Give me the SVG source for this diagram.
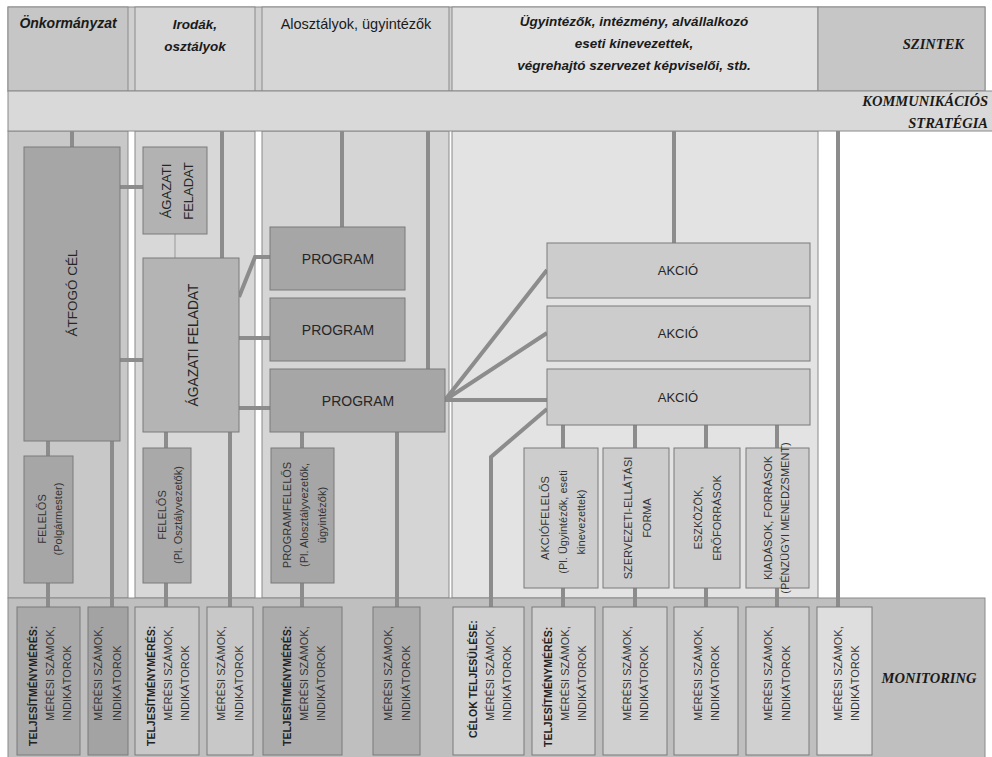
<svg xmlns="http://www.w3.org/2000/svg" width="992" height="757" viewBox="0 0 992 757">
<style>
.lane{stroke:#8a8a8a;stroke-width:1}
.box{stroke:#7a7a7a;stroke-width:1}
.dk{fill:#a6a6a6}
.md{fill:#b2b2b2}
.lt{fill:#cccccc}
.conn{stroke:#8c8c8c;stroke-width:4;fill:none}
.thin{stroke:#999999;stroke-width:1;fill:none}
.h{font-family:"Liberation Sans",Arial,sans-serif;font-weight:bold;font-style:italic;fill:#1a1a1a;text-anchor:middle}
.hs{font-family:"Liberation Serif","Times New Roman",serif;font-weight:bold;font-style:italic;fill:#1a1a1a;font-size:14.5px}
.t{font-family:"Liberation Sans",Arial,sans-serif;fill:#262626;text-anchor:middle}
.r{font-family:"Liberation Sans",Arial,sans-serif;fill:#333333;font-size:11px;text-anchor:middle}
.m{font-family:"Liberation Sans",Arial,sans-serif;fill:#333333;font-size:11px;text-anchor:start}
.mb{font-family:"Liberation Sans",Arial,sans-serif;fill:#222222;font-size:10.5px;font-weight:bold;text-anchor:start}
</style>
<rect x="0" y="0" width="992" height="757" fill="#ffffff"/>

<g id="lanes">
  <rect class="lane" x="8" y="131" width="120" height="467" fill="#c8c8c8"/>
  <rect class="lane" x="135" y="131" width="120" height="467" fill="#d8d8d8"/>
  <rect class="lane" x="262" y="131" width="187" height="467" fill="#d5d5d5"/>
  <rect class="lane" x="452" y="131" width="366" height="467" fill="#e3e3e3"/>
  <rect class="lane" x="8" y="598" width="977" height="165" fill="#bfbfbf"/>
</g>

<g id="header">
  <rect class="lane" x="8" y="7" width="977" height="84" fill="#d0d0d0"/>
  <rect class="lane" x="8" y="7" width="120" height="84" fill="#c6c6c6"/>
  <rect class="lane" x="135" y="7" width="120" height="84" fill="#d6d6d6"/>
  <rect class="lane" x="262" y="7" width="187" height="84" fill="#d6d6d6"/>
  <rect class="lane" x="452" y="7" width="366" height="84" fill="#e0e0e0"/>
  <rect class="lane" x="818" y="7" width="167" height="84" fill="#c6c6c6"/>
  <text class="h" x="68" y="28" font-size="14">Önkormányzat</text>
  <text class="h" x="195" y="29" font-size="13.5">Irodák,</text>
  <text class="h" x="195" y="51" font-size="13.5">osztályok</text>
  <text x="356" y="29" font-size="14.5" font-family="Liberation Sans, Arial, sans-serif" fill="#1a1a1a" text-anchor="middle">Alosztályok, ügyintézők</text>
  <text class="h" x="634" y="26" font-size="13.5">Ügyintézők, intézmény, alvállalkozó</text>
  <text class="h" x="634" y="48" font-size="13.5">eseti kinevezettek,</text>
  <text class="h" x="634" y="70" font-size="13.5">végrehajtó szervezet képviselői, stb.</text>
  <text class="hs" x="964" y="49" text-anchor="end">SZINTEK</text>
  <rect class="lane" x="8" y="91" width="990" height="40" fill="#d9d9d9"/>
  <text class="hs" x="988" y="106" text-anchor="end">KOMMUNIKÁCIÓS</text>
  <text class="hs" x="988" y="128" text-anchor="end">STRATÉGIA</text>
  <text class="hs" x="929" y="683" text-anchor="middle">MONITORING</text>
</g>

<g id="connectors">
  <path class="conn" d="M72,131V147 M222,131V258 M342,131V227 M428,131V369 M674,131V243 M838,131V607"/>
  <path class="conn" d="M120,187H143 M120,360H143 M239,297L255,257H270 M239,338H270 M239,408H270"/>
  <path class="conn" d="M445,400L547,270 M445,400L547,333 M445,400H547 M547,409L491,457V607"/>
  <path class="conn" d="M48,441V456 M48,583V607 M112,441V607 M166,432V448 M166,583V607 M230,432V607 M302,432V448 M302,583V607 M397,432V607"/>
  <path class="conn" d="M563,425V448 M563,588V607 M635,425V448 M635,588V607 M706,425V448 M706,588V607 M777,425V448 M777,588V607"/>
  <path class="thin" d="M175,234V258"/>
</g>

<g id="atfogo-cel">
  <rect class="box dk" x="24" y="147" width="96" height="294"/>
  <text class="t" font-size="13.5" transform="translate(77,293) rotate(-90)">ÁTFOGÓ CÉL</text>
</g>
<g id="agazati-feladat-1">
  <rect class="box md" x="143" y="147" width="64" height="87"/>
  <text class="t" font-size="13" transform="translate(171,191) rotate(-90)">ÁGAZATI</text>
  <text class="t" font-size="13" transform="translate(193,191) rotate(-90)">FELADAT</text>
</g>
<g id="agazati-feladat-2">
  <rect class="box" fill="#b4b4b4" x="143" y="258" width="96" height="174"/>
  <text class="t" font-size="13.8" transform="translate(198,345) rotate(-90)">ÁGAZATI FELADAT</text>
</g>
<g id="program-1">
  <rect class="box dk" x="270" y="227" width="135" height="63"/>
  <text class="t" font-size="14" x="338" y="264">PROGRAM</text>
</g>
<g id="program-2">
  <rect class="box dk" x="270" y="298" width="135" height="63"/>
  <text class="t" font-size="14" x="338" y="335">PROGRAM</text>
</g>
<g id="program-3">
  <rect class="box dk" x="270" y="369" width="175" height="63"/>
  <text class="t" font-size="14" x="358" y="406">PROGRAM</text>
</g>
<g id="akcio-1">
  <rect class="box lt" x="547" y="243" width="263" height="55"/>
  <text class="t" font-size="13" x="678" y="275">AKCIÓ</text>
</g>
<g id="akcio-2">
  <rect class="box lt" x="547" y="306" width="263" height="55"/>
  <text class="t" font-size="13" x="678" y="338">AKCIÓ</text>
</g>
<g id="akcio-3">
  <rect class="box lt" x="547" y="369" width="263" height="56"/>
  <text class="t" font-size="13" x="678" y="402">AKCIÓ</text>
</g>

<g id="felelos-polgarmester">
  <rect class="box dk" x="24" y="456" width="49" height="127"/>
  <text class="r" transform="translate(46,519) rotate(-90)">FELELŐS</text>
  <text class="r" transform="translate(62,519) rotate(-90)">(Polgármester)</text>
</g>
<g id="felelos-osztalyvezetok">
  <rect class="box" fill="#a9a9a9" x="143" y="448" width="48" height="135"/>
  <text class="r" transform="translate(166,515) rotate(-90)">FELELŐS</text>
  <text class="r" transform="translate(182,515) rotate(-90)">(Pl. Osztályvezetők)</text>
</g>
<g id="programfelelos">
  <rect class="box dk" x="271" y="448" width="63" height="135"/>
  <text class="r" transform="translate(291,515) rotate(-90)">PROGRAMFELELŐS</text>
  <text class="r" transform="translate(308,515) rotate(-90)">(Pl. Alosztályvezetők,</text>
  <text class="r" transform="translate(326,515) rotate(-90)">ügyintézők)</text>
</g>
<g id="akciofelelos">
  <rect class="box" fill="#cdcdcd" x="524" y="448" width="74" height="140"/>
  <text class="r" transform="translate(549,518) rotate(-90)">AKCIÓFELELŐS</text>
  <text class="r" transform="translate(567,522) rotate(-90)">(Pl. Ügyintézők, eseti</text>
  <text class="r" transform="translate(585,522) rotate(-90)">kinevezettek)</text>
</g>
<g id="szervezeti-ellatasi-forma">
  <rect class="box" fill="#cdcdcd" x="603" y="448" width="66" height="140"/>
  <text class="r" transform="translate(632,518) rotate(-90)">SZERVEZETI-ELLÁTÁSI</text>
  <text class="r" transform="translate(651,518) rotate(-90)">FORMA</text>
</g>
<g id="eszkozok-eroforrasok">
  <rect class="box" fill="#cdcdcd" x="674" y="448" width="66" height="140"/>
  <text class="r" transform="translate(702,518) rotate(-90)">ESZKÖZÖK,</text>
  <text class="r" transform="translate(721,518) rotate(-90)">ERŐFORRÁSOK</text>
</g>
<g id="kiadasok-forrasok">
  <rect class="box" fill="#cdcdcd" x="746" y="448" width="63" height="140"/>
  <text class="r" transform="translate(772,518) rotate(-90)">KIADÁSOK, FORRÁSOK</text>
  <text class="r" font-size="8.7" transform="translate(789,518) rotate(-90)">(PÉNZÜGYI MENEDZSMENT)</text>
</g>

<g id="mon-1">
  <rect class="box" fill="#a9a9a9" x="17" y="607" width="63" height="148"/>
  <text class="mb" transform="translate(37,746) rotate(-90)">TELJESÍTMÉNYMÉRÉS:</text>
  <text class="m" transform="translate(54,721) rotate(-90)">MÉRÉSI SZÁMOK,</text>
  <text class="m" transform="translate(71,721) rotate(-90)">INDIKÁTOROK</text>
</g>
<g id="mon-2">
  <rect class="box" fill="#a3a3a3" x="88" y="607" width="40" height="148"/>
  <text class="m" transform="translate(102,721) rotate(-90)">MÉRÉSI SZÁMOK,</text>
  <text class="m" transform="translate(121,721) rotate(-90)">INDIKÁTOROK</text>
</g>
<g id="mon-3">
  <rect class="box" fill="#c8c8c8" x="135" y="607" width="64" height="148"/>
  <text class="mb" transform="translate(155,746) rotate(-90)">TELJESÍTMÉNYMÉRÉS:</text>
  <text class="m" transform="translate(172,721) rotate(-90)">MÉRÉSI SZÁMOK,</text>
  <text class="m" transform="translate(189,721) rotate(-90)">INDIKÁTOROK</text>
</g>
<g id="mon-4">
  <rect class="box" fill="#c8c8c8" x="207" y="607" width="46" height="148"/>
  <text class="m" transform="translate(225,721) rotate(-90)">MÉRÉSI SZÁMOK,</text>
  <text class="m" transform="translate(243,721) rotate(-90)">INDIKÁTOROK</text>
</g>
<g id="mon-5">
  <rect class="box" fill="#acacac" x="263" y="607" width="79" height="148"/>
  <text class="mb" transform="translate(291,746) rotate(-90)">TELJESÍTMÉNYMÉRÉS:</text>
  <text class="m" transform="translate(308,721) rotate(-90)">MÉRÉSI SZÁMOK,</text>
  <text class="m" transform="translate(325,721) rotate(-90)">INDIKÁTOROK</text>
</g>
<g id="mon-6">
  <rect class="box" fill="#acacac" x="373" y="607" width="47" height="148"/>
  <text class="m" transform="translate(392,721) rotate(-90)">MÉRÉSI SZÁMOK,</text>
  <text class="m" transform="translate(410,721) rotate(-90)">INDIKÁTOROK</text>
</g>
<g id="mon-7">
  <rect class="box" fill="#d0d0d0" x="453" y="607" width="71" height="148"/>
  <text class="mb" transform="translate(477,738) rotate(-90)">CÉLOK TELJESÜLÉSE:</text>
  <text class="m" transform="translate(494,721) rotate(-90)">MÉRÉSI SZÁMOK,</text>
  <text class="m" transform="translate(511,721) rotate(-90)">INDIKÁTOROK</text>
</g>
<g id="mon-8">
  <rect class="box" fill="#d0d0d0" x="532" y="607" width="63" height="148"/>
  <text class="mb" transform="translate(552,747) rotate(-90)">TELJESÍTMÉNYMÉRÉS:</text>
  <text class="m" transform="translate(569,721) rotate(-90)">MÉRÉSI SZÁMOK,</text>
  <text class="m" transform="translate(586,721) rotate(-90)">INDIKÁTOROK</text>
</g>
<g id="mon-9">
  <rect class="box" fill="#d0d0d0" x="603" y="607" width="64" height="148"/>
  <text class="m" transform="translate(631,721) rotate(-90)">MÉRÉSI SZÁMOK,</text>
  <text class="m" transform="translate(648,721) rotate(-90)">INDIKÁTOROK</text>
</g>
<g id="mon-10">
  <rect class="box" fill="#d0d0d0" x="674" y="607" width="64" height="148"/>
  <text class="m" transform="translate(702,721) rotate(-90)">MÉRÉSI SZÁMOK,</text>
  <text class="m" transform="translate(719,721) rotate(-90)">INDIKÁTOROK</text>
</g>
<g id="mon-11">
  <rect class="box" fill="#d0d0d0" x="746" y="607" width="63" height="148"/>
  <text class="m" transform="translate(772,721) rotate(-90)">MÉRÉSI SZÁMOK,</text>
  <text class="m" transform="translate(790,721) rotate(-90)">INDIKÁTOROK</text>
</g>
<g id="mon-12">
  <rect class="box" fill="#dedede" x="817" y="607" width="55" height="148"/>
  <text class="m" transform="translate(842,721) rotate(-90)">MÉRÉSI SZÁMOK,</text>
  <text class="m" transform="translate(859,721) rotate(-90)">INDIKÁTOROK</text>
</g>
</svg>
